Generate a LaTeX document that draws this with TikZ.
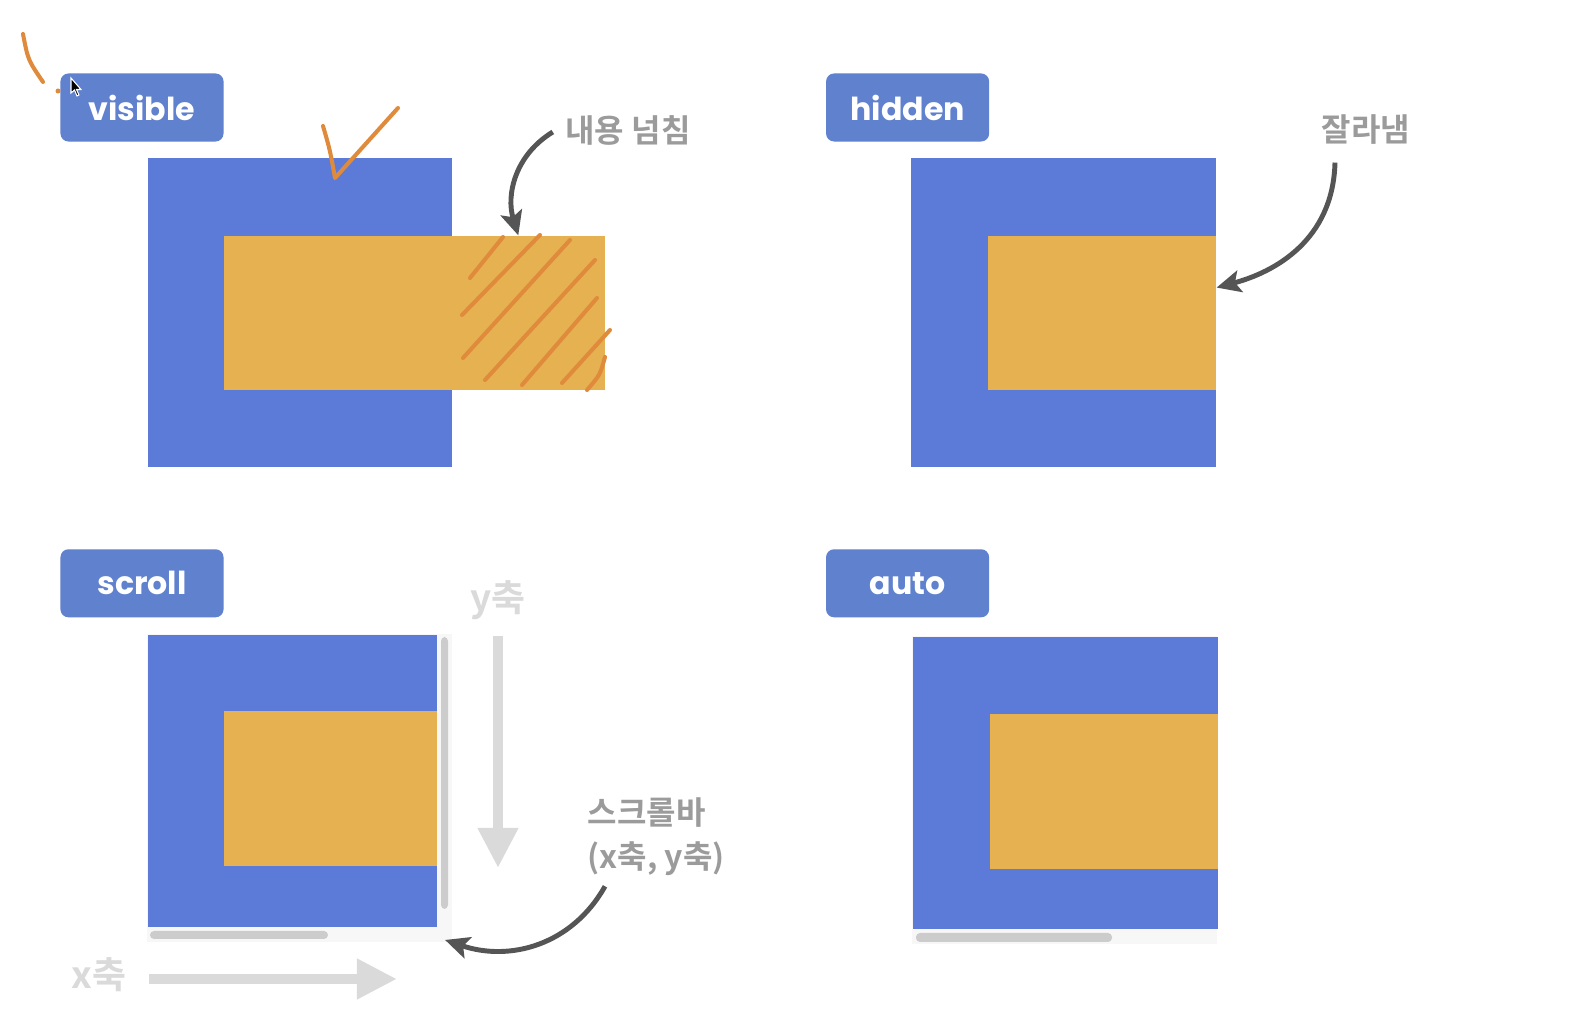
\documentclass[tikz,border=0pt]{standalone}
\usepackage{fontspec}
\usetikzlibrary{arrows.meta, positioning, calc}
\newfontfamily\tagfont{Poppins}
\newfontfamily\kofont{Noto Sans CJK KR}[BoldFont={* Bold}]
\definecolor{boxblue}{HTML}{5C7AD8}
\definecolor{tagblue}{HTML}{5F81CE}
\definecolor{fillorange}{HTML}{E6B151}
\definecolor{penorange}{HTML}{E08B3C}
\definecolor{notegray}{HTML}{9B9B9B}
\definecolor{axisgray}{HTML}{DADADA}
\definecolor{thumbgray}{HTML}{CCCCCC}
\definecolor{trackgray}{HTML}{F7F7F7}
\definecolor{arrowgray}{HTML}{555555}

\begin{document}
\begin{tikzpicture}[x=0.01cm, y=-0.01cm,
  tag/.style={fill=tagblue, rounded corners=0.08cm, minimum width=1.63cm, minimum height=0.68cm,
              text=white, font=\tagfont\bfseries\fontsize{9}{10}\selectfont, inner sep=0},
  outer/.style={fill=boxblue, anchor=north west, inner sep=0},
  inner/.style={fill=fillorange, anchor=north west, inner sep=0},
  note/.style={text=notegray, font=\kofont\bfseries\fontsize{9.1}{11}\selectfont, inner sep=0},
  axis/.style={text=axisgray, font=\kofont\bfseries\fontsize{10.5}{12}\selectfont, inner sep=0},
  arr/.style={-{Stealth[length=0.24cm, width=0.22cm, inset=0.05cm]}, line width=1.4pt, arrowgray},
  axisarr/.style={-{Triangle[length=0.4cm, width=0.38cm]}, line width=0.1cm, axisgray},
  pen/.style={penorange, line width=1.15pt, line cap=round, line join=round},
  thumb/.style={fill=thumbgray, rounded corners=0.04cm}
]
\useasboundingbox[fill=white] (0,0) rectangle (1584,1034);

% visible
\node[tag] (tvis) at (142,107.5) {visible};
\node[outer, minimum width=3.041cm, minimum height=3.081cm] (visout) at (147.5,157.6) {};
\node[inner, minimum width=3.807cm, minimum height=1.536cm] (visin) at (223.3,235.4) {};
\node[note] (ovf) at (628,130) {내용 넘침};
\coordinate (ovftip) at ($(visin.north west)+(295,0)$);
\draw[arr] ($(ovf.west)+(-12,2)$) .. controls (515,155) and (506,195) .. (ovftip);
\draw[pen] (470,278) -- (503,237);
\draw[pen] (462,315) -- (540,235);
\draw[pen] (463,358) -- (570,240);
\draw[pen] (485,380) -- (595,260);
\draw[pen] (522,385) -- (597,298);
\draw[pen] (562,383) -- (610,330);
\draw[pen] (587,390) .. controls (600,375) .. (605,357);
\draw[pen] (323,126) .. controls (330,150) .. (335,178) -- (398,108);
\draw[pen] (23,34) .. controls (28,60) .. (43,82);
\fill[penorange] (58,91) circle (2.5);
\filldraw[fill=black, draw=white, line width=0.3pt] (71,78) -- (71,93) -- (74.5,90) -- (77,96) -- (79,95)
  -- (76.5,89.5) -- (81,89.5) -- cycle;

% hidden
\node[tag] (thid) at (907.6,107.5) {hidden};
\node[outer, minimum width=3.05cm, minimum height=3.081cm] (hidout) at (910,157.6) {};
\node[inner, minimum width=2.28cm, minimum height=1.536cm] (hidin) at (987,235.4) {};
\node[note] (cut) at (1366,130) {잘라냄};
\coordinate (cuttip) at ($(hidout.north east)+(0,130)$);
\draw[arr] ($(cut.south)+(-31,17)$) .. controls (1333,240) and (1275,272) .. (cuttip);

% scroll
\node[tag] (tscr) at (142,583.3) {scroll};
\fill[trackgray] (147,634) rectangle (452,942);
\node[outer, minimum width=2.89cm, minimum height=2.92cm] (scrout) at (147.5,634.4) {};
\node[inner, minimum width=2.131cm, minimum height=1.55cm] (scrin) at (223.3,710.5) {};
\fill[thumb] (150,931) rectangle (328,939);
\fill[thumb] (441,637) rectangle (448,909);
\node[axis] (ylab) at (498,600) {y축};
\node[axis] (xlab) at (99,975) {x축};
\coordinate (yfrom) at (498,636);
\coordinate (yto) at (498,868);
\coordinate (xfrom) at (149,979);
\coordinate (xto) at (397,979);
\draw[axisarr] (yfrom) -- (yto);
\draw[axisarr] (xfrom) -- (xto);
\node[note, align=left, anchor=north west, font=\kofont\bfseries\fontsize{9.1}{12.5}\selectfont] (sbar) at (587,797)
  {스크롤바\\(x축, y축)};
\coordinate (sbartip) at ($(scrout.south east)+(7,12)$);
\draw[arr] ($(sbar.south west)+(18,10)$) .. controls (572,945) and (510,962) .. (sbartip);

% auto
\node[tag] (taut) at (907.6,583.3) {auto};
\fill[trackgray] (912,636) rectangle (1217,944);
\node[outer, minimum width=3.051cm, minimum height=2.92cm] (autout) at (912.2,636.4) {};
\node[inner, minimum width=2.283cm, minimum height=1.546cm] (autin) at (989,713.2) {};
\fill[thumb] (916,933) rectangle (1112,942);
\end{tikzpicture}
\end{document}
